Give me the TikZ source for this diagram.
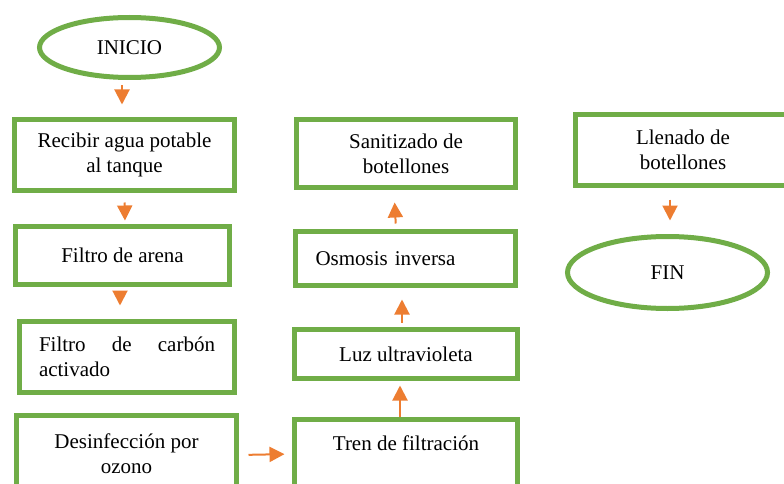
\documentclass[tikz,border=0pt]{standalone}
\usepackage{fontspec}
\setmainfont{Liberation Serif}
\usetikzlibrary{arrows.meta,shapes.geometric}
\definecolor{stepgreen}{HTML}{70AD47}
\definecolor{flowarr}{HTML}{ED7D31}
\tikzset{
  >={Triangle[length=15pt,width=15pt]},
  every node/.style={font=\fontsize{21}{25}\selectfont,text=black},
  box/.style={draw=stepgreen,line width=5pt,fill=white,align=center,inner sep=0pt,minimum width=215pt,minimum height=58pt},
  term/.style={box,ellipse},
  arrow/.style={->,line width=2pt,draw=flowarr},
}

\begin{document}
\begin{tikzpicture}[x=1pt,y=-1pt]
\useasboundingbox (0,0) rectangle (784,484);

% left column
\node[term,minimum width=180pt,minimum height=60pt] (inicio) at (129.5,47.5) {INICIO};
\node[box,minimum width=220pt,minimum height=71pt] (recibir) at (124.5,155) {Recibir agua potable\\al tanque};
\node[box,minimum width=214pt,minimum height=58pt] (arena) at (122.5,255.5) {Filtro de arena};
\node[box,minimum width=215pt,minimum height=71pt,text width=176pt,align=justify] (carbon) at (127,357) {Filtro de carbón \mbox{activado}};
\node[box,minimum width=220pt,minimum height=77pt] (ozono) at (126.5,454) {Desinfección por\\ozono};

% middle column
\node[box,minimum width=223pt,minimum height=77pt,text height=15pt,text depth=31pt] (tren) at (406,458) {Tren de filtración};
\node[box,minimum width=223pt,minimum height=49pt] (luz) at (406,354) {Luz ultravioleta};
\node[box,minimum width=220pt,minimum height=54pt,text width=180pt,align=left] (osmosis) at (405.5,258.5) {Osmosis inversa};
\node[box,minimum width=219pt,minimum height=68pt] (sanitizado) at (406,153.5) {Sanitizado de\\botellones};

% right column
\node[box,minimum width=215pt,minimum height=71pt] (llenado) at (683,150) {Llenado de\\botellones};
\node[term,minimum width=200pt,minimum height=72pt] (fin) at (667.5,272.5) {FIN};

\draw[arrow,shorten <=5.5pt,shorten >=12.5pt] ([xshift=-7.5pt]inicio.south) -- ([xshift=-2.5pt]recibir.north);
\draw[arrow,shorten <=9.5pt,shorten >=3.5pt] (recibir.south) -- ([xshift=2.5pt]arena.north);
\draw[arrow,shorten <=5.5pt,shorten >=13.5pt] ([xshift=-2.5pt]arena.south) -- ([xshift=-7pt]carbon.north);
\draw[arrow,shorten <=9.5pt,shorten >=7.5pt] ([yshift=-1pt]ozono.east) -- ([yshift=4pt]tren.west);
\draw[arrow,shorten >=4.5pt] ([xshift=-6pt]tren.north) -- ([xshift=-6pt]luz.south);
\draw[arrow,shorten <=4.5pt,shorten >=11.5pt] ([xshift=-4pt]luz.north) -- ([xshift=-3.5pt]osmosis.south);
\draw[arrow,shorten <=5.5pt,shorten >=12.5pt] ([xshift=-9.5pt]osmosis.north) -- ([xshift=-12pt]sanitizado.south);
\draw[arrow,shorten <=11.5pt,shorten >=13.5pt] ([xshift=-13pt]llenado.south) -- ([xshift=2.5pt]fin.north);

\end{tikzpicture}
\end{document}
